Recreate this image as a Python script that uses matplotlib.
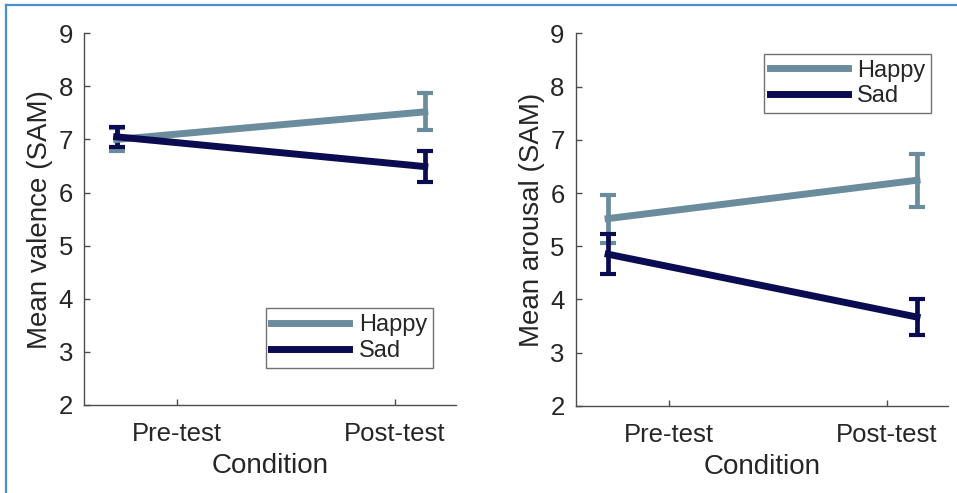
import matplotlib
matplotlib.use("Agg")
import matplotlib.pyplot as plt
from matplotlib.lines import Line2D

plt.rcParams['font.family'] = ['Liberation Sans', 'DejaVu Sans']

# ---- data ----
conditions = ["Pre-test", "Post-test"]
tick_pos = [0.25, 0.835]
data_pos = [0.087, 0.916]
series = ["Happy", "Sad"]

valence_happy = [7.00, 7.52]
valence_happy_err = [0.22, 0.35]
valence_sad = [7.05, 6.49]
valence_sad_err = [0.19, 0.30]

arousal_happy = [5.52, 6.24]
arousal_happy_err = [0.45, 0.50]
arousal_sad = [4.85, 3.67]
arousal_sad_err = [0.38, 0.34]

colors = {"Happy": "#6B8C9C", "Sad": "#0B0B52"}
text_color = "#262626"
axis_color = "#4D4D4D"

fig = plt.figure(figsize=(9.57, 4.93), dpi=100)

# blue border (top & left visible)
fig.add_artist(Line2D([6/957, 1.0], [1 - 5/493, 1 - 5/493], transform=fig.transFigure,
                      color="#4A90CF", lw=1.6))
fig.add_artist(Line2D([6/957, 6/957], [0, 1 - 5/493], transform=fig.transFigure,
                      color="#4A90CF", lw=1.6))

ax1 = fig.add_axes([0.0881, 0.1785, 0.3884, 0.754])
ax2 = fig.add_axes([0.6016, 0.1765, 0.3893, 0.756])

panels = [
    (ax1, valence_happy, valence_happy_err, valence_sad, valence_sad_err,
     "Mean valence (SAM)", (0.938, 0.10), "lower right"),
    (ax2, arousal_happy, arousal_happy_err, arousal_sad, arousal_sad_err,
     "Mean arousal (SAM)", (0.954, 0.945), "upper right"),
]

for ax, hv, he, sv, se, ylabel, anchor, loc in panels:
    handles = []
    for name, vals, errs in [("Happy", hv, he), ("Sad", sv, se)]:
        ax.errorbar(data_pos, vals, yerr=errs, color=colors[name], lw=5.0,
                    elinewidth=3.4, capsize=5.5, capthick=3.0, label=name)
        handles.append(Line2D([], [], color=colors[name], lw=5.0))
    ax.set_xlim(0, 1)
    ax.set_ylim(2, 9)
    ax.set_yticks(range(2, 10))
    ax.set_xticks(tick_pos)
    ax.set_xticklabels(conditions)
    for s in ["top", "right"]:
        ax.spines[s].set_visible(False)
    for s in ["left", "bottom"]:
        ax.spines[s].set_color(axis_color)
        ax.spines[s].set_linewidth(1.0)
    ax.tick_params(direction="in", length=4, width=1.0, colors=axis_color,
                   labelcolor=text_color, labelsize=18.5)
    ax.tick_params(axis="x", pad=12)
    ax.tick_params(axis="y", pad=8)
    ax.set_xlabel("Condition", fontsize=20, color=text_color, labelpad=5)
    ax.set_ylabel(ylabel, fontsize=20, color=text_color, labelpad=4)
    leg = ax.legend(handles, series, loc=loc, bbox_to_anchor=anchor, fontsize=17,
                    frameon=True, fancybox=False, edgecolor=axis_color,
                    handlelength=3.3, handletextpad=0.4, borderpad=0.25,
                    labelspacing=0.15, borderaxespad=0.0)
    leg.get_frame().set_linewidth(1.0)
    for t in leg.get_texts():
        t.set_color(text_color)

fig.savefig("out.png", dpi=100)
